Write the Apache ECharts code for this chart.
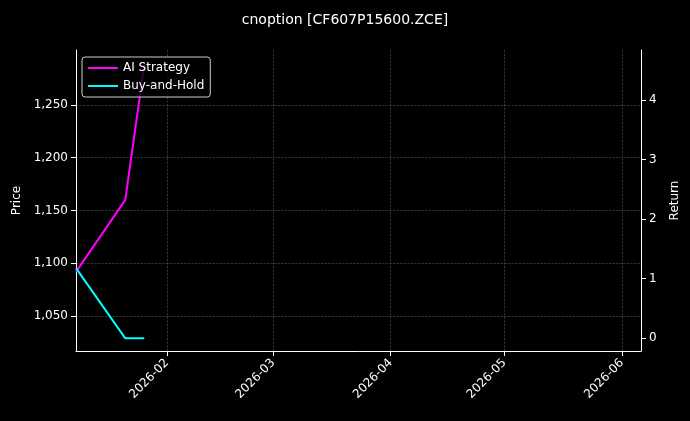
<!DOCTYPE html>
<html>
<head>
<meta charset="utf-8">
<script src="https://cdn.jsdelivr.net/npm/echarts@6/dist/echarts.min.js"></script>
<style>html,body{margin:0;background:#000;}#main{width:690px;height:421px;}</style>
</head>
<body>
<div id="main"></div>
<script>
var dates = ['2026-01-08', '2026-01-21', '2026-01-26'];
var aiReturn = [1.11, 2.32, 4.59];
var holdPrice = [1095.5, 1029, 1029];
var xTicks = ['2026-02-01', '2026-03-01', '2026-04-01', '2026-05-01', '2026-06-01'];

function ms(d) { return Date.UTC(+d.slice(0, 4), +d.slice(5, 7) - 1, +d.slice(8, 10)); }
function pad(n) { return n < 10 ? '0' + n : '' + n; }

var myChart = echarts.init(document.getElementById('main'));
var txt = { color: '#fff', fontFamily: 'DejaVu Sans', fontSize: 12 };
var grid = { show: true, lineStyle: { color: '#555', type: 'dashed', width: 0.6 } };
var xt = xTicks.map(ms);
var option = {
    backgroundColor: '#000',
    animation: false,
    title: { text: 'cnoption [CF607P15600.ZCE]', left: 'center', top: 8,
        textStyle: { color: '#fff', fontFamily: 'DejaVu Sans', fontSize: 14, fontWeight: 'normal' } },
    grid: { left: 76, right: 49, top: 50, bottom: 70 },
    legend: {
        left: 82, top: 57, orient: 'vertical', itemWidth: 30, itemHeight: 2, itemGap: 6,
        backgroundColor: 'rgba(0,0,0,0.8)', borderColor: '#ccc', borderWidth: 1, borderRadius: 3, padding: [5, 6],
        textStyle: txt, icon: 'rect',
        data: ['AI Strategy', 'Buy-and-Hold']
    },
    xAxis: {
        type: 'value',
        min: ms('2026-01-08'), max: ms('2026-06-06'),
        axisLine: { onZero: false, lineStyle: { color: '#fff' } },
        axisTick: { show: true, customValues: xt, lineStyle: { color: '#fff' } },
        splitLine: grid,
        axisLabel: Object.assign({ rotate: 45, margin: 10, customValues: xt,
            formatter: function (v) { var d = new Date(v); return d.getUTCFullYear() + '-' + pad(d.getUTCMonth() + 1); } }, txt)
    },
    yAxis: [{
        type: 'value', min: 1017, max: 1302, name: 'Price', nameLocation: 'middle', nameGap: 48,
        nameTextStyle: txt,
        axisLine: { show: true, lineStyle: { color: '#fff' } },
        axisTick: { show: true, customValues: [1050, 1100, 1150, 1200, 1250] },
        axisLabel: Object.assign({ customValues: [1050, 1100, 1150, 1200, 1250] }, txt),
        splitLine: grid
    }, {
        type: 'value', min: -0.22, max: 4.84, name: 'Return', nameLocation: 'middle', nameGap: 28,
        nameTextStyle: txt,
        axisLine: { show: true, lineStyle: { color: '#fff' } },
        axisTick: { show: true, customValues: [0, 1, 2, 3, 4] },
        axisLabel: Object.assign({ customValues: [0, 1, 2, 3, 4] }, txt),
        splitLine: { show: false }
    }],
    series: [{
        name: 'AI Strategy', type: 'line', yAxisIndex: 1, showSymbol: false,
        color: '#ff00ff', lineStyle: { width: 2 },
        data: dates.map(function (d, i) { return [ms(d), aiReturn[i]]; })
    }, {
        name: 'Buy-and-Hold', type: 'line', yAxisIndex: 0, showSymbol: false,
        color: '#00ffff', lineStyle: { width: 2 },
        data: dates.map(function (d, i) { return [ms(d), holdPrice[i]]; })
    }]
};
option && myChart.setOption(option);
</script>
</body>
</html>
